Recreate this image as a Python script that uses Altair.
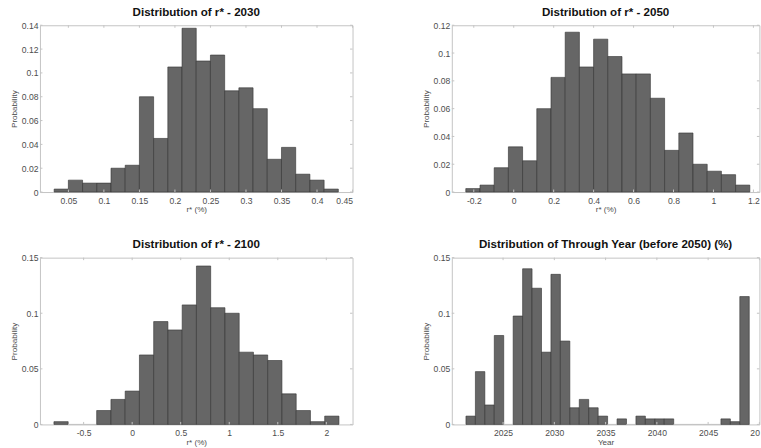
import altair as alt
import pandas as pd

# ---------------- data ----------------
# r* 2030 histogram (20 bins)
r2030_start = 0.03
r2030_width = 0.02
r2030_prob = [0.0025, 0.01, 0.0075, 0.0075, 0.02, 0.0225, 0.08, 0.045, 0.105, 0.1375,
              0.11, 0.115, 0.085, 0.0875, 0.07, 0.0275, 0.0375, 0.015, 0.01, 0.0025]

# r* 2050 histogram (20 bins)
r2050_start = -0.24
r2050_width = 0.0711
r2050_prob = [0.0025, 0.005, 0.0175, 0.0325, 0.0225, 0.06, 0.0825, 0.115, 0.09, 0.11,
              0.0975, 0.085, 0.085, 0.0675, 0.03, 0.0425, 0.02, 0.015, 0.0125, 0.005]

# r* 2100 histogram (20 bins)
r2100_start = -0.806
r2100_width = 0.1468
r2100_prob = [0.0025, 0, 0, 0.0125, 0.0225, 0.03, 0.0625, 0.0925, 0.085, 0.1075,
              0.1425, 0.105, 0.1, 0.065, 0.0625, 0.0575, 0.0275, 0.0125, 0.0025, 0.0075]

# Through year histogram (30 bins)
year_start = 2021.38
year_width = 0.921
year_prob = [0.0075, 0.0475, 0.0175, 0.08, 0, 0.0975, 0.14, 0.1225, 0.065, 0.135,
             0.075, 0.015, 0.0225, 0.015, 0.0075, 0, 0.005, 0, 0.0075, 0.005,
             0.005, 0.005, 0, 0, 0, 0, 0, 0.005, 0.0025, 0.115]

titles = ["Distribution of r* - 2030", "Distribution of r* - 2050",
          "Distribution of r* - 2100", "Distribution of Through Year (before 2050) (%)"]
x_titles = ["r* (%)", "r* (%)", "r* (%)", "Year"]

x_domains = [[0.01, 0.45], [-0.31, 1.23], [-0.95, 2.27], [2020, 2050]]
x_ticks = [
    [0.05, 0.1, 0.15, 0.2, 0.25, 0.3, 0.35, 0.4, 0.45],
    [-0.2, 0, 0.2, 0.4, 0.6, 0.8, 1.0, 1.2],
    [-0.5, 0, 0.5, 1.0, 1.5, 2.0],
    [2025, 2030, 2035, 2040, 2045, 2050],
]
x_formats = [".2~f", ".1~f", ".1~f", "d"]
# the figure is cut at its right edge: only "20" of the last year label shows
cut_label_value = 2050
cut_label_text = "20"

y_domains = [[0, 0.14], [0, 0.12], [0, 0.15], [0, 0.15]]
y_ticks = [
    [0, 0.02, 0.04, 0.06, 0.08, 0.1, 0.12, 0.14],
    [0, 0.02, 0.04, 0.06, 0.08, 0.1, 0.12],
    [0, 0.05, 0.1, 0.15],
    [0, 0.05, 0.1, 0.15],
]

# ---------------- styling ----------------
WIDTHS = [313, 308, 313, 308]
H = 167
FONT = "Liberation Sans"
BAR_FILL = "#666666"
BAR_EDGE = "#333333"
FRAME = "#c4c4c4"
TEXT = "#4d4d4d"
TICK_LEN = 2.5


def panel(i, start, width, probs):
    W = WIDTHS[i]
    df = pd.DataFrame({
        "x0": [start + k * width for k in range(len(probs))],
        "p": probs,
    })
    df["x1"] = df["x0"] + width

    xs = alt.Scale(domain=x_domains[i], nice=False, zero=False)
    ys = alt.Scale(domain=y_domains[i], nice=False)
    fmt = x_formats[i]
    base_expr = "replace(format(datum.value, '%s'), '\u2212', '-')" % fmt
    if i == 3:
        label_expr = "datum.value == %d ? '%s' : %s" % (cut_label_value, cut_label_text, base_expr)
        x_axis = alt.Axis(
            values=x_ticks[i], labelExpr=label_expr, title=x_titles[i],
            labelAlign=alt.condition("datum.value == %d" % cut_label_value,
                                     alt.value("right"), alt.value("center")),
        )
    else:
        x_axis = alt.Axis(values=x_ticks[i], labelExpr=base_expr, title=x_titles[i])
    y_axis = alt.Axis(values=y_ticks[i], format=".2~f", title="Probability")

    bars = alt.Chart(df).mark_bar(fill=BAR_FILL, strokeWidth=0.6).encode(
        x=alt.X("x0:Q", scale=xs, axis=x_axis),
        x2="x1:Q",
        y=alt.Y("p:Q", scale=ys, axis=y_axis),
        y2=alt.datum(0),
        stroke=alt.condition("datum.p > 0", alt.value(BAR_EDGE), alt.value("#bdbdbd")),
    )

    xt = pd.DataFrame({"v": x_ticks[i]})
    yt = pd.DataFrame({"v": y_ticks[i]})
    top = alt.Chart(xt).mark_rule(color=FRAME, strokeWidth=1).encode(
        x=alt.X("v:Q", scale=xs, axis=x_axis), y=alt.value(0), y2=alt.value(TICK_LEN))
    bottom = alt.Chart(xt).mark_rule(color=FRAME, strokeWidth=1).encode(
        x=alt.X("v:Q", scale=xs, axis=x_axis), y=alt.value(H), y2=alt.value(H - TICK_LEN))
    left = alt.Chart(yt).mark_rule(color=FRAME, strokeWidth=1).encode(
        y=alt.Y("v:Q", scale=ys, axis=y_axis), x=alt.value(0), x2=alt.value(TICK_LEN))
    right = alt.Chart(yt).mark_rule(color=FRAME, strokeWidth=1).encode(
        y=alt.Y("v:Q", scale=ys, axis=y_axis), x=alt.value(W), x2=alt.value(W - TICK_LEN))

    return alt.layer(bars, top, bottom, left, right).properties(
        width=W, height=H,
        title=alt.Title(titles[i], fontSize=11.6, fontWeight="bold", color="#111111",
                        font=FONT, anchor="middle", offset=3),
    )


p1 = panel(0, r2030_start, r2030_width, r2030_prob)
p2 = panel(1, r2050_start, r2050_width, r2050_prob)
p3 = panel(2, r2100_start, r2100_width, r2100_prob)
p4 = panel(3, year_start, year_width, year_prob)

chart = alt.concat(p1, p2, p3, p4, columns=2).properties(
    spacing={"row": 65.7, "column": 99.4},
    bounds="flush",
    align="each",
    padding={"left": 9, "top": 5, "right": 0, "bottom": 0},
).configure_view(
    stroke=FRAME, strokeWidth=1
).configure_axis(
    domain=False, ticks=False, grid=False,
    labelFont=FONT, labelFontSize=8.6, labelColor=TEXT,
    titleFont=FONT, titleFontSize=8.1, titleFontWeight="normal", titleColor=TEXT,
).configure_axisX(
    labelPadding=4, titlePadding=1,
).configure_axisY(
    labelPadding=2, titlePadding=3,
)

chart.save("out.html", embed_options={"renderer": "svg", "actions": False})
